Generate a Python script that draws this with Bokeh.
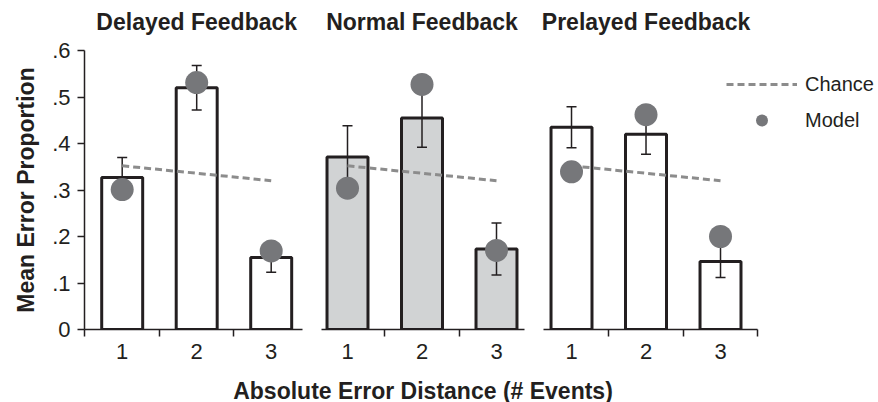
from bokeh.plotting import figure
from bokeh.layouts import row, column
from bokeh.models import (FixedTicker, CustomJSTickFormatter, Legend, LegendItem,
                          Range1d, Label)
from bokeh.embed import file_html
from bokeh.resources import INLINE

# ---------------- data ----------------
categories = [1, 2, 3]
tick_labels = ["1", "2", "3"]
y_ticks = [0, 0.1, 0.2, 0.3, 0.4, 0.5, 0.6]

panel_titles = ["Delayed Feedback", "Normal Feedback", "Prelayed Feedback"]
x_title = "Absolute Error Distance (# Events)"
y_title = "Mean Error Proportion"

delayed_mean = [0.327, 0.520, 0.155]
delayed_err = [0.043, 0.048, 0.032]
delayed_model = [0.301, 0.531, 0.169]

normal_mean = [0.371, 0.455, 0.173]
normal_err = [0.067, 0.063, 0.056]
normal_model = [0.304, 0.527, 0.170]

prelayed_mean = [0.435, 0.420, 0.146]
prelayed_err = [0.044, 0.043, 0.034]
prelayed_model = [0.339, 0.462, 0.200]

chance = [0.352, 0.336, 0.320]

# ---------------- style / layout ----------------
FONT = "Liberation Sans"
INK = "#231f20"
BAR_FILLS = ["white", "#d1d3d4", "white"]
MODEL_COLOR = "#76777a"
CHANCE_COLOR = "#8c8c8c"

TOTAL_W = 878
TOTAL_H = 402
TITLE_H = 36          # strip holding the panel titles
TOP = 14              # panel border above the frame
FRAME_H = 279
BOTTOM = 48           # panel border below the frame
XLAB_H = TOTAL_H - TITLE_H - TOP - FRAME_H - BOTTOM
Y_MAX = 0.6
SCALE = 74.5          # px per category unit

# (x_start, left border, frame width, right border)
P1 = (0.494, 84, 218, 9)
P2 = (0.651, 10, 203, 9)
P3_FRAME = TOTAL_W - sum(P1[1:]) - (P2[1] + P2[2] + P2[3]) - 10
P3 = (0.624, 10, P3_FRAME, 0)


def make_panel(idx, mean, err, model, geom, minor, bounds_end, show_y):
    x_start, b_left, frame_w, b_right = geom
    p = figure(title=None, frame_width=frame_w, frame_height=FRAME_H,
               x_range=Range1d(x_start, x_start + frame_w / SCALE),
               y_range=Range1d(0, Y_MAX),
               output_backend="svg", toolbar_location=None,
               y_axis_location="left" if show_y else None,
               min_border_left=b_left, min_border_right=b_right,
               min_border_top=TOP, min_border_bottom=BOTTOM)

    p.xgrid.visible = False
    p.ygrid.visible = False
    p.outline_line_color = None
    p.background_fill_color = "white"
    p.border_fill_color = "white"

    xa = p.xaxis[0]
    xa.ticker = FixedTicker(ticks=categories, minor_ticks=minor)
    xa.major_label_overrides = {c: t for c, t in zip(categories, tick_labels)}
    xa.major_tick_out = 0
    xa.major_tick_in = 0
    xa.minor_tick_out = 7
    xa.minor_tick_in = 0
    xa.minor_tick_line_color = INK
    xa.minor_tick_line_width = 1.5
    xa.axis_line_color = INK
    xa.axis_line_width = 1.5
    xa.major_label_text_font = FONT
    xa.major_label_text_font_size = "22px"
    xa.major_label_text_color = INK
    xa.major_label_standoff = 7
    if bounds_end is not None:
        xa.bounds = (x_start, bounds_end)

    if show_y:
        ya = p.yaxis[0]
        ya.ticker = FixedTicker(ticks=y_ticks)
        ya.formatter = CustomJSTickFormatter(
            code="return tick === 0 ? '0' : tick.toFixed(1).replace(/^0/, '');")
        ya.major_tick_out = 7
        ya.major_tick_in = 0
        ya.minor_tick_out = 0
        ya.minor_tick_in = 0
        ya.major_tick_line_color = INK
        ya.major_tick_line_width = 1.5
        ya.axis_line_color = INK
        ya.axis_line_width = 1.5
        ya.major_label_text_font = FONT
        ya.major_label_text_font_size = "22px"
        ya.major_label_text_color = INK
        ya.major_label_standoff = 7
        ya.axis_label = y_title
        ya.axis_label_text_font = FONT
        ya.axis_label_text_font_size = "23px"
        ya.axis_label_text_font_style = "bold"
        ya.axis_label_text_color = INK
        ya.axis_label_standoff = 10

    upper = [m + e for m, e in zip(mean, err)]
    lower = [m - e for m, e in zip(mean, err)]

    p.vbar(x=categories, top=mean, bottom=0, width=0.55, fill_color=BAR_FILLS[idx],
           line_color=INK, line_width=3)
    p.segment(x0=categories, y0=lower, x1=categories, y1=upper,
              line_color=INK, line_width=1.5)
    p.scatter(x=categories + categories, y=upper + lower, marker="dash", size=10,
              line_color=INK, line_width=1.5)
    chance_r = p.line(x=categories, y=chance, line_color=CHANCE_COLOR, line_width=3,
                      line_dash="7 4")
    model_r = p.scatter(x=categories, y=model, size=23, fill_color=MODEL_COLOR,
                        line_color=None)
    return p, chance_r, model_r


p1, _, _ = make_panel(0, delayed_mean, delayed_err, delayed_model, P1,
                      [0.5, 1.5, 2.5], None, True)
p2, _, _ = make_panel(1, normal_mean, normal_err, normal_model, P2,
                      [1.5, 2.5], None, False)
p3, chance_r3, model_r3 = make_panel(2, prelayed_mean, prelayed_err, prelayed_model,
                                     P3, [1.5, 2.5, 3.5], 3.5, False)

legend = Legend(items=[LegendItem(label="Chance", renderers=[chance_r3]),
                       LegendItem(label="Model", renderers=[model_r3])],
                location=(183, 194), orientation="vertical",
                glyph_width=71, glyph_height=30, label_height=30,
                label_standoff=8, spacing=6, padding=0, margin=0,
                border_line_color=None, background_fill_alpha=0,
                label_text_font=FONT, label_text_font_size="20px",
                label_text_color=INK)
p3.add_layout(legend)


def strip(height):
    s = figure(title=None, width=TOTAL_W, height=height, output_backend="svg",
               toolbar_location=None, x_axis_location=None, y_axis_location=None,
               min_border_left=0, min_border_right=0, min_border_top=0,
               min_border_bottom=0, x_range=Range1d(0, 1), y_range=Range1d(0, 1))
    s.outline_line_color = None
    s.xgrid.visible = False
    s.ygrid.visible = False
    return s


# panel titles, each centred over the middle category of its panel
title_strip = strip(TITLE_H)
left = 0
for name, geom in zip(panel_titles, [P1, P2, P3]):
    x_start, b_left, frame_w, b_right = geom
    cx = left + b_left + (categories[1] - x_start) * SCALE
    title_strip.add_layout(Label(x=cx, y=15, x_units="screen", y_units="screen",
                                 text=name, text_align="center",
                                 text_baseline="alphabetic", text_font=FONT,
                                 text_font_size="23px", text_font_style="bold",
                                 text_color=INK))
    left += b_left + frame_w + b_right

# shared x-axis title, centred under the middle panel
xlab_strip = strip(XLAB_H)
cx2 = sum(P1[1:]) + P2[1] + P2[2] / 2
xlab_strip.add_layout(Label(x=cx2, y=12, x_units="screen", y_units="screen",
                            text=x_title, text_align="center",
                            text_baseline="alphabetic", text_font=FONT,
                            text_font_size="23px", text_font_style="bold",
                            text_color=INK))

layout = column(title_strip, row(p1, p2, p3), xlab_strip)

open("out.html", "w").write(file_html(layout, INLINE))
